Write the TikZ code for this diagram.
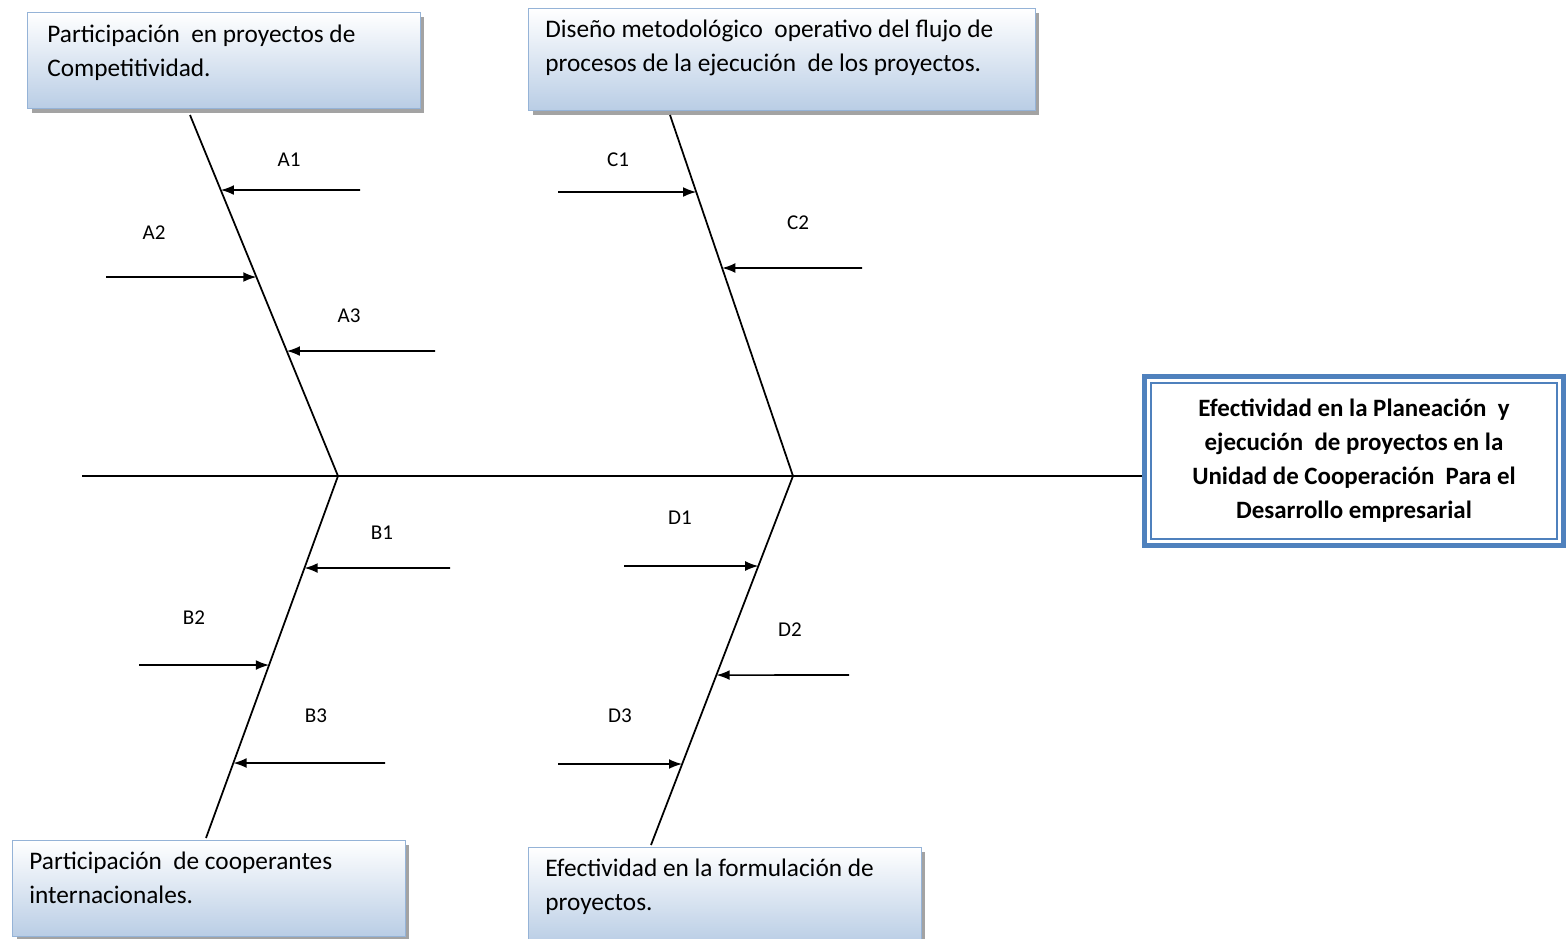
\documentclass[tikz,border=0pt]{standalone}
\usepackage{fontspec}
\setmainfont{Carlito}
\usetikzlibrary{arrows.meta,shadows}

\definecolor{boxline}{HTML}{95B3D7}
\definecolor{boxfill}{HTML}{B9CDE5}
\definecolor{effblue}{HTML}{4F81BD}

\tikzset{
	catbox/.style={draw=boxline, line width=0.8pt, top color=white, bottom color=boxfill,
		drop shadow={shadow xshift=2.2pt, shadow yshift=-2.2pt, fill=black!45, opacity=0.8},
		anchor=north west, inner sep=0pt},
	boxtext/.style={anchor=north west, inner sep=0pt, align=left,
		font=\fontsize{14.4}{19.3}\selectfont},
	bone/.style={line width=1pt},
	rib/.style={line width=0.9pt, -{Latex[length=7.5pt,width=5.6pt]}},
	riblabel/.style={font=\fontsize{12}{14}\selectfont}
}

\begin{document}
\begin{tikzpicture}[x=0.02cm, y=-0.02cm]
	\useasboundingbox (0,0) rectangle (1566,938);

	% categorias
	\node (boxA) [catbox, minimum width=7.86cm, minimum height=1.92cm] at (27,12) {};
	\node (txtA) [boxtext] at (47,25) {Participación\ \ en proyectos de\\Competitividad.};
	\node (boxC) [catbox, minimum width=10.14cm, minimum height=2.04cm] at (528,8) {};
	\node (txtC) [boxtext] at (545,20) {Diseño metodológico\ \ operativo del flujo de\\procesos de la ejecución\ \ de los proyectos.};
	\node (boxB) [catbox, minimum width=7.86cm, minimum height=1.92cm] at (12,840) {};
	\node (txtB) [boxtext] at (29,852) {Participación\ \ de cooperantes\\internacionales.};
	\node (boxD) [catbox, minimum width=7.86cm, minimum height=1.92cm] at (528,847) {};
	\node (txtD) [boxtext] at (545,859) {Efectividad en la formulación de\\proyectos.};

	% efecto
	\node (effect) [draw=effblue, line width=2.8pt, minimum width=8.38cm, minimum height=3.38cm,
		align=center, font=\bfseries\fontsize{14.2}{19.3}\selectfont] at (1354,461)
		{Efectividad en la Planeación\ \ y\\ejecución\ \ de proyectos en la\\Unidad de Cooperación\ \ Para el\\Desarrollo empresarial};
	\draw [effblue, line width=0.9pt] ([shift={(5pt,-5pt)}]effect.north west) rectangle ([shift={(-5pt,5pt)}]effect.south east);

	% espina
	\coordinate (tail) at (82,476);
	\coordinate (jA) at (338,476);
	\coordinate (jC) at (793,476);
	\draw [bone] (tail) -- (tail -| effect.west);

	% huesos
	\coordinate (topA) at (190,115);
	\coordinate (endB) at (206,838);
	\coordinate (topC) at (670,115);
	\coordinate (endD) at (651,845);
	\draw [bone] (topA) -- (jA) -- (endB);
	\draw [bone] (topC) -- (jC) -- (endD);

	% causas A
	\coordinate (a1) at (360,190);
	\coordinate (a2) at (106,277);
	\coordinate (a3) at (435,351);
	\draw [rib] (a1) -- (intersection of topA--jA and a1--{0,190});
	\draw [rib] (a2) -- (intersection of topA--jA and a2--{500,277});
	\draw [rib] (a3) -- (intersection of topA--jA and a3--{0,351});
	\node (labA1) [riblabel] at (289,160) {A1};
	\node (labA2) [riblabel] at (154,233) {A2};
	\node (labA3) [riblabel] at (349,316) {A3};

	% causas B
	\coordinate (b1) at (450,568);
	\coordinate (b2) at (139,665);
	\coordinate (b3) at (385,763);
	\draw [rib] (b1) -- (intersection of jA--endB and b1--{0,568});
	\draw [rib] (b2) -- (intersection of jA--endB and b2--{500,665});
	\draw [rib] (b3) -- (intersection of jA--endB and b3--{0,763});
	\node (labB1) [riblabel] at (382,533) {B1};
	\node (labB2) [riblabel] at (194,618) {B2};
	\node (labB3) [riblabel] at (316,716) {B3};

	% causas C
	\coordinate (c1) at (558,192);
	\coordinate (c2) at (862,268);
	\draw [rib] (c1) -- (intersection of topC--jC and c1--{1000,192});
	\draw [rib] (c2) -- (intersection of topC--jC and c2--{500,268});
	\node (labC1) [riblabel] at (618,160) {C1};
	\node (labC2) [riblabel] at (798,223) {C2};

	% causas D
	\coordinate (d1) at (624,566);
	\coordinate (d2) at (849,675);
	\coordinate (d3) at (558,764);
	\draw [rib] (d1) -- (intersection of jC--endD and d1--{1000,566});
	\draw [rib] (d2) -- (intersection of jC--endD and d2--{500,675});
	\draw [rib] (d3) -- (intersection of jC--endD and d3--{1000,764});
	\node (labD1) [riblabel] at (680,518) {D1};
	\node (labD2) [riblabel] at (790,630) {D2};
	\node (labD3) [riblabel] at (620,716) {D3};
\end{tikzpicture}
\end{document}
